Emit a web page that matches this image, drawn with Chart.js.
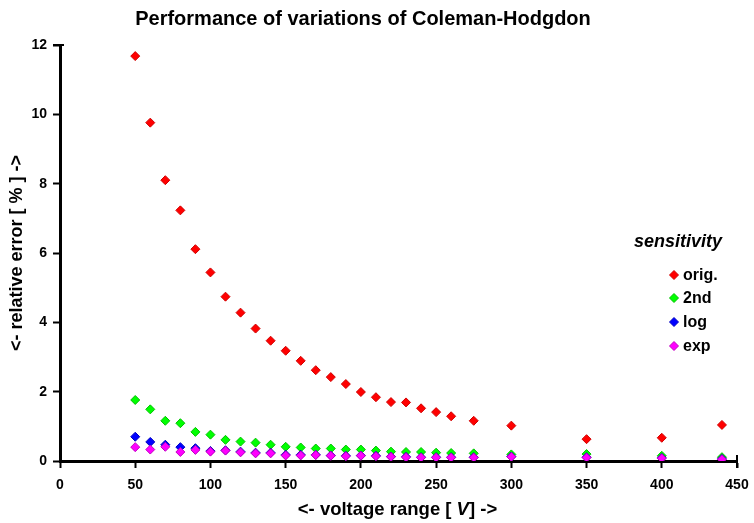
<!DOCTYPE html>
<html>
<head>
<meta charset="utf-8">
<script src="https://cdn.jsdelivr.net/npm/chart.js@4/dist/chart.umd.min.js"></script>
<style>
  html, body { margin: 0; padding: 0; background: #fff; }
  canvas { display: block; }
</style>
</head>
<body>
<canvas id="c" width="754" height="523"></canvas>
<script>
// ---- data ----
const voltageRange = [50, 60, 70, 80, 90, 100, 110, 120, 130, 140, 150, 160, 170, 180, 190, 200, 210, 220, 230, 240, 250, 260, 275, 300, 350, 400, 440];
const origValues   = [11.68, 9.76, 8.10, 7.23, 6.11, 5.44, 4.74, 4.28, 3.82, 3.47, 3.18, 2.89, 2.62, 2.42, 2.22, 1.99, 1.84, 1.70, 1.69, 1.52, 1.41, 1.29, 1.16, 1.02, 0.63, 0.67, 1.04];
const secondValues = [1.76, 1.49, 1.16, 1.09, 0.84, 0.76, 0.61, 0.56, 0.53, 0.47, 0.41, 0.39, 0.36, 0.36, 0.33, 0.33, 0.30, 0.27, 0.26, 0.26, 0.24, 0.23, 0.22, 0.19, 0.20, 0.15, 0.11];
const logValues    = [0.70, 0.55, 0.47, 0.40, 0.37, 0.29, 0.31, 0.27, 0.24, 0.24, 0.18, 0.18, 0.18, 0.16, 0.15, 0.16, 0.15, 0.13, 0.12, 0.11, 0.11, 0.11, 0.11, 0.13, 0.11, 0.09, 0.06];
const expValues    = [0.40, 0.33, 0.41, 0.26, 0.32, 0.27, 0.30, 0.25, 0.22, 0.22, 0.16, 0.16, 0.17, 0.15, 0.14, 0.15, 0.14, 0.12, 0.11, 0.10, 0.10, 0.10, 0.10, 0.12, 0.10, 0.08, 0.05];
const seriesNames  = ['orig.', '2nd', 'log', 'exp'];
const xTicks = [0, 50, 100, 150, 200, 250, 300, 350, 400, 450];
const yTicks = [0, 2, 4, 6, 8, 10, 12];
const chartTitle = 'Performance of variations of Coleman-Hodgdon';
const legendTitle = 'sensitivity';

const FONT = '"Liberation Sans", Arial, Helvetica, sans-serif';
const fills   = ['#ff0000', '#00ff00', '#0000ff', '#ff00ff'];
const borders = ['#d00000', '#00c000', '#0000c0', '#c000c0'];
const seriesValues = [origValues, secondValues, logValues, expValues];

const datasets = seriesValues.map((vals, i) => ({
  label: seriesNames[i],
  data: voltageRange.map((x, k) => ({ x: x, y: vals[k] })),
  pointStyle: 'rectRot',
  pointRadius: 4.5,
  pointHoverRadius: 4.5,
  pointBorderWidth: 1,
  backgroundColor: fills[i],
  borderColor: borders[i],
  order: seriesValues.length - i
}));

const decorPlugin = {
  id: 'decor',
  afterDraw(chart) {
    const ctx = chart.ctx;
    const area = chart.chartArea;
    ctx.save();
    // end ticks crossing the axes (top of y axis, right end of x axis)
    ctx.strokeStyle = '#000';
    ctx.lineWidth = 2;
    ctx.beginPath();
    ctx.moveTo(area.left - 7, area.top);
    ctx.lineTo(area.left + 4, area.top);
    ctx.moveTo(area.right, area.bottom - 6);
    ctx.lineTo(area.right, area.bottom + 7);
    ctx.stroke();

    ctx.fillStyle = '#000';
    // title
    ctx.font = 'bold 20px ' + FONT;
    ctx.textAlign = 'center';
    ctx.textBaseline = 'alphabetic';
    ctx.fillText(chartTitle, 363, 25);

    // x axis title with italic V
    const parts = [
      { t: '<- voltage range [ ', f: 'bold 18.5px ' + FONT },
      { t: 'V', f: 'italic bold 18.5px ' + FONT },
      { t: '] ->', f: 'bold 18.5px ' + FONT }
    ];
    let total = 0;
    parts.forEach(p => { ctx.font = p.f; p.w = ctx.measureText(p.t).width; total += p.w; });
    let x0 = 397.5 - total / 2;
    ctx.textAlign = 'left';
    parts.forEach(p => { ctx.font = p.f; ctx.fillText(p.t, x0, 515); x0 += p.w; });

    // y axis title
    ctx.save();
    ctx.translate(22, 253);
    ctx.rotate(-Math.PI / 2);
    ctx.font = 'bold 18px ' + FONT;
    ctx.textAlign = 'center';
    ctx.textBaseline = 'alphabetic';
    ctx.fillText('<- relative error [ % ] ->', 0, 0);
    ctx.restore();

    // legend
    ctx.font = 'italic bold 18px ' + FONT;
    ctx.textAlign = 'center';
    ctx.textBaseline = 'middle';
    ctx.fillText(legendTitle, 678, 242);
    const itemY = [275, 298, 322, 346];
    ctx.font = 'bold 16px ' + FONT;
    ctx.textAlign = 'left';
    chart.data.datasets.forEach((ds, i) => {
      ctx.fillStyle = ds.backgroundColor;
      ctx.strokeStyle = ds.borderColor;
      ctx.lineWidth = 1;
      Chart.helpers.drawPoint(ctx, { pointStyle: 'rectRot', radius: 4.5, borderWidth: 1, rotation: 0 }, 674, itemY[i]);
      ctx.fillStyle = '#000';
      ctx.fillText(ds.label, 683, itemY[i] + 1);
    });
    ctx.restore();
  }
};

const tickFont = { family: FONT, size: 14, weight: 'bold' };

new Chart(document.getElementById('c'), {
  type: 'scatter',
  data: { datasets: datasets },
  options: {
    responsive: false,
    animation: false,
    events: [],
    layout: { autoPadding: false, padding: { top: 45, right: 17, left: 0, bottom: 0 } },
    plugins: {
      legend: { display: false },
      title: { display: false },
      tooltip: { enabled: false }
    },
    scales: {
      x: {
        type: 'linear',
        min: 0, max: 450,
        afterBuildTicks(s) { s.ticks = xTicks.map(v => ({ value: v })); },
        ticks: { color: '#000', font: tickFont, padding: 9, maxRotation: 0, autoSkip: false },
        grid: { drawOnChartArea: false, drawTicks: true, tickLength: 7, tickWidth: 2, tickColor: '#000' },
        border: { display: true, color: '#000', width: 3 },
        afterFit(s) { s.height = 62; s.paddingLeft = 0; s.paddingRight = 0; }
      },
      y: {
        type: 'linear',
        min: 0, max: 12,
        afterBuildTicks(s) { s.ticks = yTicks.map(v => ({ value: v })); },
        ticks: { color: '#000', font: tickFont, padding: 6, autoSkip: false },
        grid: { drawOnChartArea: false, drawTicks: true, tickLength: 7, tickWidth: 2, tickColor: '#000' },
        border: { display: true, color: '#000', width: 3 },
        afterFit(s) { s.width = 60; s.paddingTop = 0; s.paddingBottom = 0; }
      }
    }
  },
  plugins: [decorPlugin]
});
</script>
</body>
</html>
